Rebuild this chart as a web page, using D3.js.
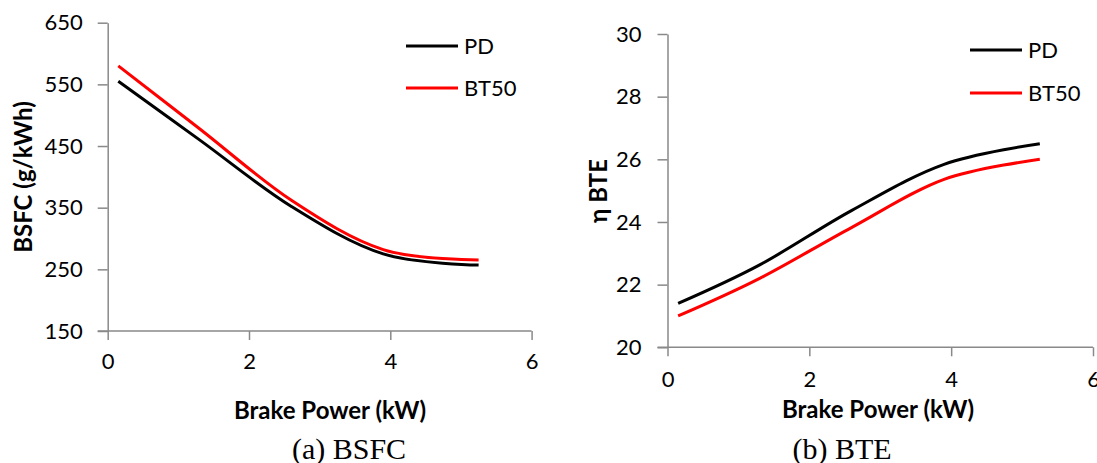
<!DOCTYPE html>
<html>
<head>
<meta charset="utf-8">
<script src="https://cdnjs.cloudflare.com/ajax/libs/d3/7.8.5/d3.min.js"></script>
<style>
  body { margin: 0; background: #fff; }
  svg { display: block; }
  .axis path, .axis line { stroke: #898989; stroke-width: 1.5; }
  .axis text { font-family: Lato, sans-serif; font-size: 22px; fill: #000; }
  .axis-title { font-family: Lato, sans-serif; font-weight: bold; font-size: 24px; fill: #000; }
  .legend text { font-family: Lato, sans-serif; font-size: 22px; fill: #000; }
  .caption { font-family: "Liberation Serif", serif; font-size: 30px; fill: #000; }
</style>
</head>
<body>
<svg id="chart" width="1097" height="463"></svg>
<script>

// brake power (kW) at the measured load points
var power = [0.15, 1.3, 2.6, 3.9, 5.25];

// BSFC (g/kWh)
var bsfc_pd = [555, 460, 352, 275, 257];
var bsfc_bt50 = [580, 478, 362, 282, 265];

// BTE (%)
var bte_pd = [21.4, 22.63, 24.37, 25.84, 26.5];
var bte_bt50 = [21.0, 22.2, 23.83, 25.36, 26.0];

var series_names = ['PD', 'BT50'];
var series_colors = ['#000000', '#ff0000'];

var bsfc_ticks = [150, 250, 350, 450, 550, 650];
var bte_ticks = [20, 22, 24, 26, 28, 30];
var power_ticks = [0, 2, 4, 6];

var svg = d3.select('#chart');

var draw_panel = function(opts) {

    var x = d3.scaleLinear().domain([0, 6]).range([opts.left, opts.right]);
    var y = d3.scaleLinear().domain(opts.ydomain).range([opts.bottom, opts.top]);

    var g = svg.append('g');

    g.append('g')
	.attr('class', 'axis')
	.attr('transform', 'translate(0,' + opts.bottom + ')')
	.call(d3.axisBottom(x).tickValues(power_ticks).tickFormat(d3.format('d'))
	      .tickSize(9).tickSizeOuter(0).tickPadding(opts.xpad))
	.call(function(a) { a.select('.domain').attr('d', 'M' + (opts.left - 10) + ',0H' + opts.right); });

    g.append('g')
	.attr('class', 'axis')
	.attr('transform', 'translate(' + opts.left + ',0)')
	.call(d3.axisLeft(y).tickValues(opts.yticks).tickFormat(d3.format('d'))
	      .tickSize(10).tickSizeOuter(0).tickPadding(opts.ypad));

    var line = d3.line()
	.curve(d3.curveCatmullRom.alpha(0))
	.x(function(d, i) { return x(power[i]); })
	.y(function(d) { return y(d); });

    opts.data.forEach(function(values, i) {

	g.append('path')
	    .datum(values)
	    .attr('fill', 'none')
	    .attr('stroke', series_colors[i])
	    .attr('stroke-width', 3)
	    .attr('d', line);

    });

    // legend
    var leg = g.append('g').attr('class', 'legend');

    series_names.forEach(function(name, i) {

	var ly = opts.legend_y + i * opts.legend_gap;

	leg.append('line')
	    .attr('x1', opts.legend_x).attr('x2', opts.legend_x + 52)
	    .attr('y1', ly).attr('y2', ly)
	    .attr('stroke', series_colors[i])
	    .attr('stroke-width', 3);

	leg.append('text')
	    .attr('x', opts.legend_x + 58)
	    .attr('y', ly)
	    .attr('dy', '0.36em')
	    .text(name);

    });

    g.append('text')
	.attr('class', 'axis-title')
	.attr('text-anchor', 'middle')
	.attr('x', opts.xtitle_x)
	.attr('y', opts.xtitle_y)
	.attr('dy', '0.36em')
	.text('Brake Power (kW)');

    g.append('text')
	.attr('class', 'axis-title')
	.attr('text-anchor', 'middle')
	.attr('transform', 'translate(' + opts.ytitle_x + ',' + opts.ytitle_y + ') rotate(-90)')
	.attr('dy', '0.36em')
	.text(opts.ytitle);

    g.append('text')
	.attr('class', 'caption')
	.attr('text-anchor', 'middle')
	.attr('x', opts.caption_x)
	.attr('y', 448)
	.attr('dy', '0.35em')
	.text(opts.caption);

};

draw_panel({
    left: 107.7, right: 531.6, top: 22.7, bottom: 331,
    ydomain: [150, 650], yticks: bsfc_ticks,
    data: [bsfc_pd, bsfc_bt50],
    xpad: 13, ypad: 15,
    legend_x: 406, legend_y: 46, legend_gap: 42,
    xtitle_x: 330, xtitle_y: 410,
    ytitle_x: 23, ytitle_y: 177, ytitle: 'BSFC (g/kWh)',
    caption_x: 349, caption: '(a) BSFC'
});

draw_panel({
    left: 667.5, right: 1093, top: 34, bottom: 347.3,
    ydomain: [20, 30], yticks: bte_ticks,
    data: [bte_pd, bte_bt50],
    xpad: 15, ypad: 16,
    legend_x: 970, legend_y: 50, legend_gap: 43,
    xtitle_x: 878, xtitle_y: 409,
    ytitle_x: 598, ytitle_y: 191, ytitle: 'η BTE',
    caption_x: 842, caption: '(b) BTE'
});

</script>
</body>
</html>
